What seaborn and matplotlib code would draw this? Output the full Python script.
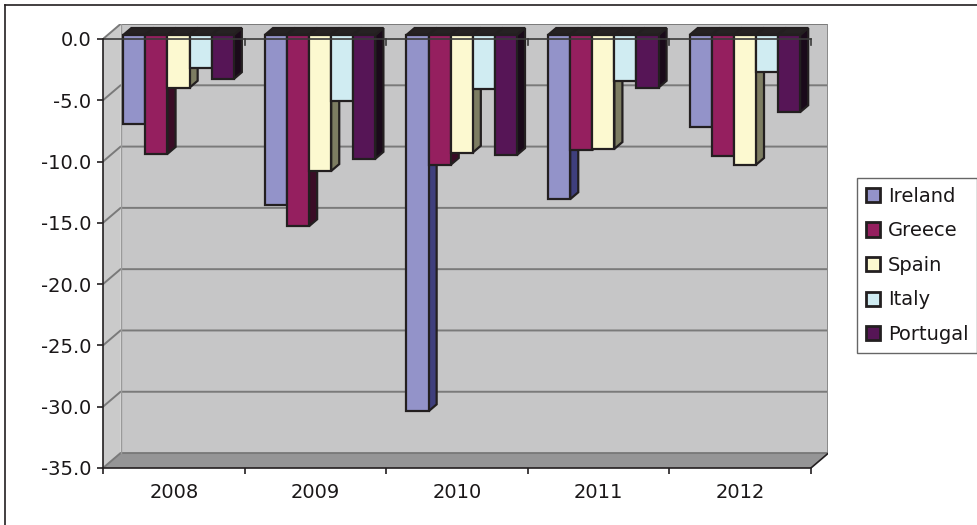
import matplotlib
matplotlib.use("Agg")
import matplotlib.pyplot as plt
import matplotlib.transforms as mtransforms
from matplotlib.patches import Polygon, Patch
from matplotlib.lines import Line2D
import numpy as np
import pandas as pd
import seaborn as sns

# Government budget balance, % of GDP
years = ["2008", "2009", "2010", "2011", "2012"]
countries = ["Ireland", "Greece", "Spain", "Italy", "Portugal"]
ireland = [-7.3, -13.9, -30.7, -13.4, -7.5]
greece = [-9.7, -15.6, -10.6, -9.4, -9.9]
spain = [-4.3, -11.1, -9.6, -9.3, -10.6]
italy = [-2.7, -5.4, -4.4, -3.8, -3.0]
portugal = [-3.6, -10.1, -9.8, -4.3, -6.3]
y_ticks = [0, -5, -10, -15, -20, -25, -30, -35]

series = [ireland, greece, spain, italy, portugal]
df = pd.DataFrame({
    "year": [y for _ in countries for y in years],
    "country": [c for c in countries for _ in years],
    "value": [v for s in series for v in s],
})

front_colors = {"Ireland": "#9393c9", "Greece": "#951f5f", "Spain": "#fcf9d0",
                "Italy": "#d0ecf2", "Portugal": "#561556"}
side_colors = {"Ireland": "#3f3f7d", "Greece": "#3a0c26", "Spain": "#7d7d62",
               "Italy": "#6b7e83", "Portugal": "#1a0a1a"}
TOP = "#262223"
EDGE = "#231f20"
WALL = "#c6c6c7"
SIDE_WALL = "#cacaca"
FLOOR = "#959596"
GRID = "#7a7a7a"
TEXT = "#1a1718"

plt.rcParams["font.family"] = ["DejaVu Sans"]

# Oblique projection: full depth of the box, and the slab occupied by the bars
DX, DY = 0.124, 1.22
F0, F1 = 0.27, 0.73
FX, FY = F0 * DX, F0 * DY
BX, BY = (F1 - F0) * DX, (F1 - F0) * DY
YMIN = -35

fig = plt.figure(figsize=(9.78, 5.25), dpi=100)
ax = fig.add_axes([103 / 978, 57 / 525, 725.5 / 978, 444 / 525])

sns.barplot(data=df, x="year", y="value", hue="country", order=years,
            hue_order=countries, palette=front_colors, saturation=1,
            width=0.78, errorbar=None, legend=False, edgecolor=EDGE,
            linewidth=1.6, ax=ax)

ax.set_xlim(-0.5, 4.5 + DX)
ax.set_ylim(YMIN, DY)

# Walls and floor
ax.add_patch(Polygon([(-0.5 + DX, YMIN + DY), (4.5 + DX, YMIN + DY),
                      (4.5 + DX, DY), (-0.5 + DX, DY)],
                     facecolor=WALL, edgecolor="none", zorder=0.5))
ax.add_patch(Polygon([(-0.5, YMIN), (-0.5 + DX, YMIN + DY),
                      (-0.5 + DX, DY), (-0.5, 0)],
                     facecolor=SIDE_WALL, edgecolor="none", zorder=0.5))
ax.add_patch(Polygon([(-0.5, YMIN), (4.5, YMIN), (4.5 + DX, YMIN + DY),
                      (-0.5 + DX, YMIN + DY)],
                     facecolor=FLOOR, edgecolor="none", zorder=0.6))

# Gridlines along side wall and back wall
for v in y_ticks:
    ax.plot([-0.5, -0.5 + DX, 4.5 + DX], [v, v + DY, v + DY],
            color=GRID, lw=1.4, zorder=1, solid_joinstyle="miter")
ax.plot([-0.5 + DX, -0.5 + DX], [YMIN + DY, DY], color="#9a9a9a", lw=1.0, zorder=1)
ax.plot([4.5 + DX, 4.5 + DX], [YMIN + DY, DY], color="#8a8a8a", lw=1.4, zorder=1)
ax.plot([4.5, 4.5 + DX], [YMIN, YMIN + DY], color=EDGE, lw=1.2, zorder=1)

# Give each bar a depth: shift the front face and add side and top faces
bars = sorted(ax.patches[:len(df)], key=lambda p: p.get_x())
shift = mtransforms.Affine2D().translate(FX, FY) + ax.transData
for r, p in enumerate(bars):
    country = countries[r % len(countries)]
    x0, w = p.get_x(), p.get_width()
    y_lo = min(p.get_y(), p.get_y() + p.get_height())
    y_hi = max(p.get_y(), p.get_y() + p.get_height())
    base = 3 + r * 0.1
    p.set_transform(shift)
    p.set_zorder(base + 0.02)
    p.set_joinstyle("miter")
    xr = x0 + w
    ax.add_patch(Polygon([(xr, y_lo), (xr + BX, y_lo + BY), (xr + BX, y_hi + BY), (xr, y_hi)],
                         transform=shift, facecolor=side_colors[country],
                         edgecolor=EDGE, lw=1.6, zorder=base, joinstyle="miter"))
    ax.add_patch(Polygon([(x0, y_hi), (xr, y_hi), (xr + BX, y_hi + BY), (x0 + BX, y_hi + BY)],
                         transform=shift, facecolor=TOP,
                         edgecolor=EDGE, lw=1.6, zorder=base + 0.01, joinstyle="miter"))

# Zero line on the front plane, crossing the bars
ax.plot([-0.5, 4.5], [0, 0], color="#3a3a3a", lw=1.2, zorder=20)
for b in np.arange(0.5, 5, 1):
    ax.plot([b, b], [0, -0.5], color="#3a3a3a", lw=1.2, zorder=20)

# Axes
for side in ("top", "right"):
    ax.spines[side].set_visible(False)
ax.spines["left"].set_bounds(YMIN, 0)
ax.spines["bottom"].set_bounds(-0.5, 4.5)
for side in ("left", "bottom"):
    ax.spines[side].set_color(EDGE)
    ax.spines[side].set_linewidth(1.2)
    ax.spines[side].set_zorder(21)

ax.set_yticks(y_ticks, labels=[f"{v:.1f}" for v in y_ticks])
ax.set_xticks(np.arange(-0.5, 5, 1), labels=[""] * 6)
ax.set_xticks(range(len(years)), labels=years, minor=True)
ax.tick_params(axis="y", direction="out", length=4.3, width=1.2, color=EDGE,
               pad=4.0, labelsize=14, labelcolor=TEXT)
ax.tick_params(axis="x", which="major", direction="out", length=4.3, width=1.2,
               color=EDGE)
ax.tick_params(axis="x", which="minor", length=0, pad=10.5, labelsize=14,
               labelcolor=TEXT)
ax.set_xlabel("")
ax.set_ylabel("")
ax.set_facecolor("none")

# Legend
handles = [Patch(facecolor=front_colors[c], edgecolor=EDGE, linewidth=2) for c in countries]
leg = fig.legend(handles, countries, loc="upper left",
                 bbox_to_anchor=(857 / 978, 1 - 178 / 525),
                 bbox_transform=fig.transFigure, frameon=True, fancybox=False,
                 edgecolor="#404040", fontsize=14, handlelength=0.75,
                 handleheight=0.75, handletextpad=0.4, labelspacing=0.8,
                 borderpad=0.45, borderaxespad=0)
leg.get_frame().set_linewidth(1.0)
for t in leg.get_texts():
    t.set_color(TEXT)

# Chart frame
fig.add_artist(Line2D([4.5 / 978, 1], [1 - 4.5 / 525, 1 - 4.5 / 525],
                      transform=fig.transFigure, color=EDGE, lw=1.2))
fig.add_artist(Line2D([4.5 / 978, 4.5 / 978], [0, 1 - 4.5 / 525],
                      transform=fig.transFigure, color=EDGE, lw=1.2))

fig.savefig("out.png", dpi=100)
